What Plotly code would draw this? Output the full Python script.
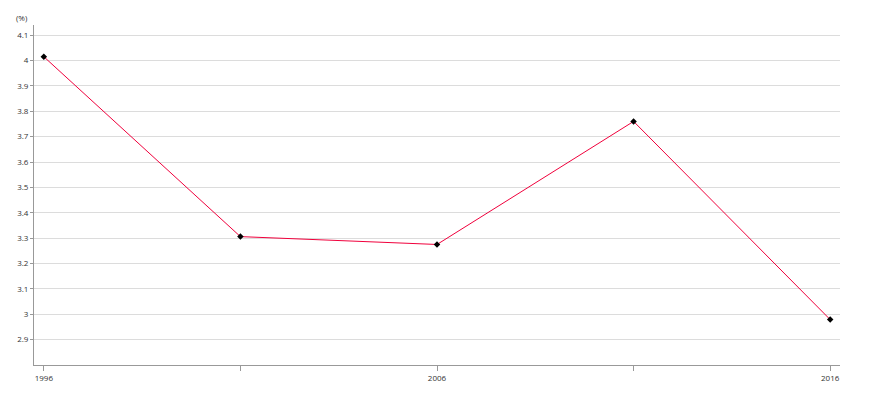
import plotly.graph_objects as go

years = [1996, 2001, 2006, 2011, 2016]
values = [4.015, 3.306, 3.275, 3.76, 2.979]
x_tickvals = [1996, 2001, 2006, 2011, 2016]
x_ticktext = ["1996", "", "2006", "", "2016"]
y_tickvals = [2.9, 3.0, 3.1, 3.2, 3.3, 3.4, 3.5, 3.6, 3.7, 3.8, 3.9, 4.0, 4.1]
y_ticktext = ["2.9", "3", "3.1", "3.2", "3.3", "3.4", "3.5", "3.6", "3.7", "3.8", "3.9", "4", "4.1"]

W, H = 862, 392
L, R, T, B = 26, 30, 17, 35
PW, PH = W - L - R, H - T - B

fig = go.Figure()
fig.add_trace(go.Scatter(
    x=years, y=values, mode="lines+markers",
    line=dict(color="#f0003c", width=1),
    marker=dict(symbol="diamond", size=5, color="black"),
    showlegend=False, hoverinfo="x+y",
))

fig.update_layout(
    width=W, height=H,
    margin=dict(l=L, r=R, t=T, b=B, autoexpand=False),
    paper_bgcolor="white", plot_bgcolor="white",
    font=dict(family="Open Sans", size=8, color="#333333"),
    xaxis=dict(
        range=[1995.75, 2016.25], tickvals=x_tickvals, ticktext=x_ticktext,
        showgrid=False, zeroline=False, showline=True, linecolor="#999", linewidth=1,
        ticks="outside", ticklen=5, tickcolor="#999", automargin=False,
        tickfont=dict(color="#333333", size=8),
    ),
    yaxis=dict(
        range=[2.8, 4.14], tickvals=y_tickvals, ticktext=y_ticktext,
        showgrid=True, gridcolor="#dcdcdc", gridwidth=1, zeroline=False,
        showline=True, linecolor="#999", linewidth=1,
        ticks="outside", ticklen=3, tickcolor="#999", automargin=False,
        tickfont=dict(color="#333333", size=8),
    ),
    annotations=[dict(
        text="(%)", xref="paper", yref="paper", showarrow=False,
        x=(14 - L) / PW, y=1 + (T - 9) / PH, xanchor="center", yanchor="middle",
        font=dict(size=8, color="#333333"),
    )],
)

fig.write_html("out.html")
